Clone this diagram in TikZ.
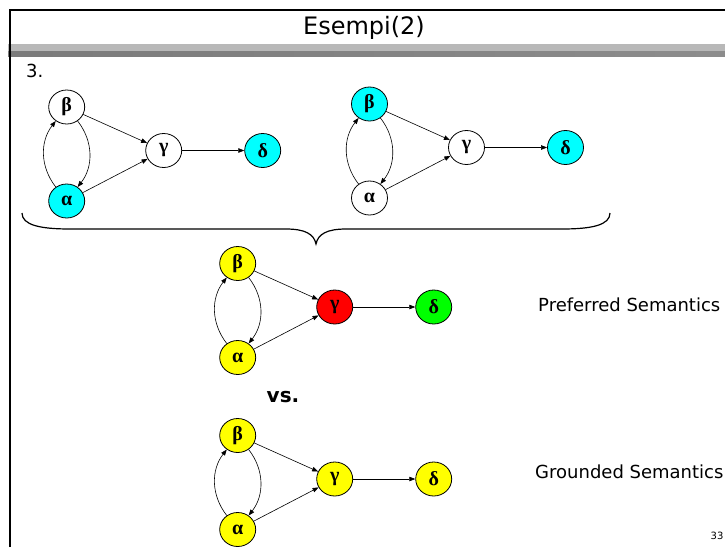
\documentclass[tikz,border=0pt]{standalone}
\usepackage{fontspec}
\setmainfont{DejaVu Sans}
\newfontfamily\greekfont{Liberation Serif}
\usetikzlibrary{arrows.meta,shapes.geometric}

% one argument graph: beta, alpha, gamma, delta with the given fills
\newcommand\argraph[6]{%
  \begin{scope}[shift={#1}]
    \node[arg,fill=#3] (#2b) at (0,0) {β};
    \node[arg,fill=#4] (#2a) at (0,-94) {α};
    \node[arg,fill=#5] (#2g) at (97,-43.5) {γ};
    \node[arg,fill=#6] (#2d) at (196,-43.5) {δ};
    \draw[att] (#2b) -- (#2g);
    \draw[att] (#2a) -- (#2g);
    \draw[att] (#2g) -- (#2d);
    \draw[att] (#2b) to[bend left=38] (#2a);
    \draw[att] (#2a) to[bend left=38] (#2b);
  \end{scope}}

\definecolor{argcyan}{RGB}{0,255,255}
\definecolor{argyellow}{RGB}{255,255,0}
\definecolor{argred}{RGB}{255,0,0}
\definecolor{arggreen}{RGB}{0,255,0}

\begin{document}
\begin{tikzpicture}[x=1pt,y=1pt,
  arg/.style={ellipse,draw,line width=0.8pt,minimum width=36pt,minimum height=34pt,
    inner sep=0pt,font=\greekfont\bfseries\fontsize{20}{20}\selectfont},
  att/.style={-{Triangle[length=6pt,width=4.5pt]},line width=0.6pt},
  label/.style={inner sep=0pt,font=\fontsize{18}{18}\selectfont}]
\useasboundingbox (0,0) rectangle (725,-547);

% slide frame and title bands
\shade[left color=black!28,middle color=black!8,right color=black!28] (8,-44) rectangle (725,-50.5);
\shade[left color=black!52,middle color=black!12,right color=black!45] (8,-51.5) rectangle (725,-56.5);
\draw[line width=2pt] (10,-547) -- (10,-10) -- (725,-10);
\node[inner sep=0pt,font=\fontsize{24}{24}\selectfont] (title) at (364,-28) {Esempi(2)};

\node[label,anchor=west] (num) at (26,-71) {3.};

% the two complete extensions
\argraph{(66.7,-107)}{ea}{white}{argcyan}{white}{argcyan}
\argraph{(369.5,-104)}{eb}{argcyan}{white}{white}{argcyan}

% brace grouping them
\draw[line width=1.2pt] (22,-213) .. controls (22,-225) and (40,-229) .. (70,-229)
  -- (286,-229) .. controls (305,-229) and (314,-234) .. (316,-244)
  .. controls (318,-234) and (327,-229) .. (346,-229)
  -- (562,-229) .. controls (592,-229) and (610,-225) .. (610,-213);

% preferred labelling
\argraph{(237.7,-263.5)}{pr}{argyellow}{argyellow}{argred}{arggreen}
\node[label,anchor=west] (pref) at (538,-305) {Preferred Semantics};

\node[inner sep=0pt,font=\bfseries\fontsize{20}{20}\selectfont] (vs) at (283,-397) {vs.};

% grounded labelling
\argraph{(237.7,-435.5)}{gr}{argyellow}{argyellow}{argyellow}{argyellow}
\node[label,anchor=west] (grnd) at (535,-472) {Grounded Semantics};

\node[inner sep=0pt,font=\fontsize{10}{10}\selectfont] (page) at (717,-536) {33};
\end{tikzpicture}
\end{document}
